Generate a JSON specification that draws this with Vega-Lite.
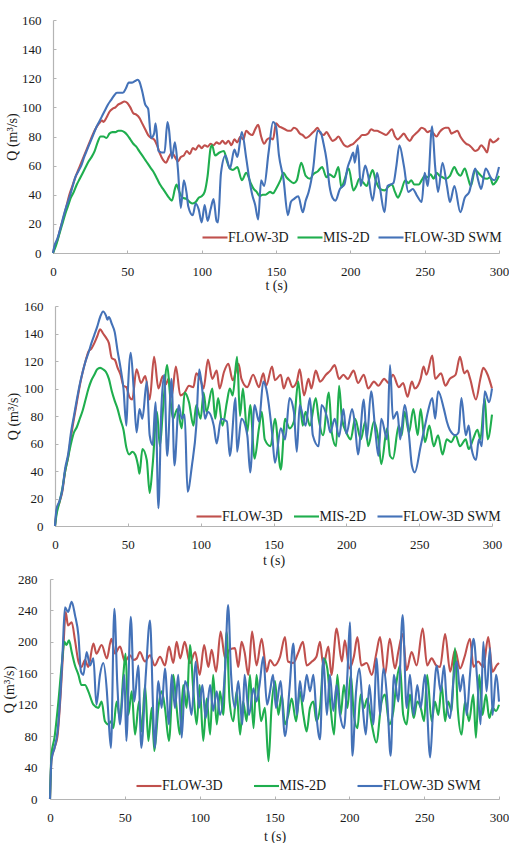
{
  "$schema": "https://vega.github.io/schema/vega-lite/v6.json",
  "background": "white",
  "padding": {"left": 2, "top": 14, "right": 0, "bottom": 0},
  "bounds": "flush",
  "spacing": 53,
  "resolve": {
    "scale": {"x": "independent", "y": "independent"},
    "axis": {"x": "independent", "y": "independent"},
    "legend": {"color": "independent"}
  },
  "config": {
    "view": {"stroke": null},
    "font": "Liberation Serif",
    "axis": {
      "grid": false,
      "labelFont": "Liberation Serif",
      "labelFontSize": 13,
      "labelColor": "#1a1a1a",
      "labelFlush": false,
      "labelOverlap": false,
      "labelBound": false,
      "titleFont": "Liberation Serif",
      "titleFontSize": 14,
      "titleFontWeight": "normal",
      "titleColor": "#1a1a1a",
      "domainColor": "#b4b4b4",
      "domainWidth": 1.2,
      "tickColor": "#b4b4b4",
      "tickSize": -3
    },
    "legend": {
      "orient": "none",
      "direction": "horizontal",
      "labelFont": "Liberation Serif",
      "labelFontSize": 14,
      "labelColor": "#1a1a1a",
      "symbolType": "stroke",
      "symbolStrokeWidth": 2.5,
      "symbolSize": 625,
      "labelOffset": -1,
      "padding": 0
    },
    "line": {"strokeWidth": 2.1, "interpolate": "monotone"}
  },
  "datasets": {
    "p1_flow3d": [
      {"t":0,"q":0},{"t":1,"q":4},{"t":3,"q":9},{"t":5,"q":17},{"t":7,"q":24},{"t":9,"q":32},{"t":11,"q":40},{"t":13,"q":46},{"t":15,"q":52},{"t":17,"q":57},{"t":19,"q":62},{"t":21,"q":67},{"t":23,"q":72},{"t":25,"q":77},{"t":27,"q":82},{"t":29,"q":86},{"t":31,"q":89},{"t":33,"q":91},{"t":34,"q":90},{"t":36,"q":93},{"t":38,"q":97},{"t":40,"q":99},{"t":42,"q":100},{"t":44,"q":102},{"t":46,"q":103},{"t":48,"q":104},{"t":50,"q":103},{"t":52,"q":100},{"t":54,"q":96},{"t":56,"q":95},{"t":58,"q":93},{"t":60,"q":89},{"t":62,"q":85},{"t":64,"q":81},{"t":66,"q":79},{"t":68,"q":78},{"t":70,"q":74},{"t":72,"q":68},{"t":74,"q":64},{"t":76,"q":62},{"t":78,"q":66},{"t":80,"q":69},{"t":82,"q":66},{"t":84,"q":63},{"t":86,"q":66},{"t":88,"q":67},{"t":90,"q":70},{"t":92,"q":68},{"t":94,"q":72},{"t":96,"q":71},{"t":98,"q":74},{"t":100,"q":72},{"t":102,"q":74},{"t":104,"q":73},{"t":106,"q":75},{"t":108,"q":74},{"t":110,"q":76},{"t":112,"q":75},{"t":114,"q":77},{"t":116,"q":75},{"t":118,"q":77},{"t":120,"q":74},{"t":122,"q":78},{"t":124,"q":76},{"t":126,"q":80},{"t":128,"q":78},{"t":130,"q":84},{"t":132,"q":82},{"t":134,"q":81},{"t":136,"q":85},{"t":138,"q":88},{"t":140,"q":80},{"t":142,"q":75},{"t":144,"q":78},{"t":146,"q":79},{"t":148,"q":78},{"t":150,"q":89},{"t":152,"q":87},{"t":154,"q":86},{"t":156,"q":85},{"t":158,"q":84},{"t":160,"q":84},{"t":162,"q":86},{"t":164,"q":85},{"t":166,"q":82},{"t":168,"q":81},{"t":170,"q":79},{"t":172,"q":80},{"t":174,"q":82},{"t":176,"q":84},{"t":178,"q":86},{"t":180,"q":82},{"t":182,"q":81},{"t":184,"q":83},{"t":186,"q":80},{"t":188,"q":77},{"t":190,"q":78},{"t":192,"q":80},{"t":194,"q":77},{"t":196,"q":74},{"t":198,"q":73},{"t":200,"q":74},{"t":202,"q":75},{"t":204,"q":77},{"t":206,"q":79},{"t":208,"q":81},{"t":210,"q":81},{"t":212,"q":82},{"t":214,"q":85},{"t":216,"q":84},{"t":218,"q":84},{"t":220,"q":83},{"t":222,"q":82},{"t":224,"q":81},{"t":226,"q":83},{"t":228,"q":85},{"t":230,"q":80},{"t":232,"q":78},{"t":234,"q":80},{"t":236,"q":82},{"t":238,"q":79},{"t":240,"q":77},{"t":242,"q":80},{"t":244,"q":82},{"t":246,"q":84},{"t":248,"q":86},{"t":250,"q":85},{"t":252,"q":83},{"t":254,"q":84},{"t":256,"q":82},{"t":258,"q":80},{"t":260,"q":83},{"t":262,"q":85},{"t":264,"q":86},{"t":266,"q":86},{"t":268,"q":82},{"t":270,"q":83},{"t":272,"q":84},{"t":274,"q":80},{"t":276,"q":77},{"t":278,"q":75},{"t":280,"q":74},{"t":282,"q":72},{"t":284,"q":70},{"t":286,"q":71},{"t":288,"q":74},{"t":290,"q":72},{"t":292,"q":69},{"t":294,"q":78},{"t":296,"q":76},{"t":298,"q":77},{"t":300,"q":79}
    ],
    "p1_mis2d": [
      {"t":0,"q":0},{"t":2,"q":5},{"t":4,"q":12},{"t":6,"q":19},{"t":8,"q":26},{"t":10,"q":32},{"t":12,"q":38},{"t":14,"q":42},{"t":16,"q":47},{"t":18,"q":51},{"t":20,"q":55},{"t":22,"q":59},{"t":24,"q":63},{"t":26,"q":66},{"t":28,"q":70},{"t":30,"q":76},{"t":32,"q":80},{"t":34,"q":80},{"t":36,"q":79},{"t":38,"q":82},{"t":40,"q":83},{"t":42,"q":83},{"t":44,"q":84},{"t":46,"q":84},{"t":48,"q":83},{"t":50,"q":81},{"t":52,"q":78},{"t":54,"q":75},{"t":56,"q":73},{"t":58,"q":70},{"t":60,"q":67},{"t":62,"q":64},{"t":64,"q":61},{"t":66,"q":58},{"t":68,"q":55},{"t":70,"q":51},{"t":72,"q":47},{"t":74,"q":44},{"t":76,"q":41},{"t":78,"q":38},{"t":80,"q":36},{"t":82,"q":44},{"t":83,"q":47},{"t":85,"q":42},{"t":87,"q":38},{"t":90,"q":37},{"t":92,"q":35},{"t":94,"q":34},{"t":96,"q":35},{"t":98,"q":38},{"t":100,"q":39},{"t":102,"q":42},{"t":104,"q":53},{"t":106,"q":72},{"t":107,"q":74},{"t":109,"q":67},{"t":112,"q":69},{"t":115,"q":70},{"t":117,"q":63},{"t":119,"q":58},{"t":121,"q":57},{"t":124,"q":59},{"t":127,"q":50},{"t":130,"q":55},{"t":133,"q":48},{"t":135,"q":44},{"t":137,"q":42},{"t":139,"q":39},{"t":141,"q":40},{"t":143,"q":40},{"t":146,"q":42},{"t":148,"q":41},{"t":150,"q":44},{"t":153,"q":50},{"t":155,"q":55},{"t":157,"q":52},{"t":159,"q":50},{"t":162,"q":48},{"t":164,"q":50},{"t":167,"q":62},{"t":170,"q":53},{"t":173,"q":51},{"t":175,"q":54},{"t":178,"q":56},{"t":181,"q":59},{"t":184,"q":52},{"t":186,"q":54},{"t":189,"q":52},{"t":192,"q":59},{"t":194,"q":45},{"t":196,"q":50},{"t":199,"q":58},{"t":202,"q":43},{"t":204,"q":46},{"t":206,"q":51},{"t":209,"q":48},{"t":211,"q":46},{"t":213,"q":52},{"t":215,"q":57},{"t":217,"q":50},{"t":220,"q":44},{"t":223,"q":43},{"t":226,"q":46},{"t":228,"q":47},{"t":230,"q":42},{"t":232,"q":38},{"t":234,"q":42},{"t":237,"q":50},{"t":239,"q":48},{"t":241,"q":50},{"t":243,"q":47},{"t":246,"q":47},{"t":248,"q":50},{"t":250,"q":53},{"t":252,"q":52},{"t":254,"q":54},{"t":256,"q":51},{"t":258,"q":55},{"t":260,"q":53},{"t":262,"q":52},{"t":264,"q":51},{"t":267,"q":53},{"t":270,"q":59},{"t":272,"q":55},{"t":274,"q":53},{"t":277,"q":58},{"t":279,"q":52},{"t":281,"q":46},{"t":284,"q":57},{"t":287,"q":54},{"t":289,"q":52},{"t":292,"q":51},{"t":294,"q":52},{"t":296,"q":47},{"t":298,"q":49},{"t":300,"q":53}
    ],
    "p1_swm": [
      {"t":0,"q":0},{"t":1,"q":5},{"t":3,"q":10},{"t":5,"q":17},{"t":7,"q":25},{"t":9,"q":32},{"t":11,"q":38},{"t":13,"q":45},{"t":15,"q":52},{"t":17,"q":56},{"t":19,"q":60},{"t":21,"q":66},{"t":23,"q":71},{"t":25,"q":76},{"t":27,"q":81},{"t":29,"q":86},{"t":31,"q":90},{"t":33,"q":94},{"t":35,"q":98},{"t":37,"q":102},{"t":39,"q":105},{"t":41,"q":108},{"t":43,"q":110},{"t":45,"q":110},{"t":47,"q":110},{"t":49,"q":113},{"t":51,"q":117},{"t":53,"q":117},{"t":55,"q":118},{"t":57,"q":119},{"t":58,"q":118},{"t":60,"q":111},{"t":62,"q":102},{"t":64,"q":99},{"t":66,"q":79},{"t":68,"q":82},{"t":69,"q":89},{"t":71,"q":70},{"t":73,"q":69},{"t":75,"q":69},{"t":77,"q":90},{"t":78,"q":85},{"t":80,"q":65},{"t":82,"q":76},{"t":84,"q":58},{"t":86,"q":31},{"t":88,"q":50},{"t":90,"q":40},{"t":91,"q":32},{"t":94,"q":26},{"t":96,"q":34},{"t":98,"q":30},{"t":100,"q":21},{"t":102,"q":33},{"t":104,"q":22},{"t":106,"q":30},{"t":108,"q":37},{"t":110,"q":22},{"t":111,"q":21},{"t":113,"q":55},{"t":116,"q":67},{"t":119,"q":58},{"t":122,"q":71},{"t":124,"q":66},{"t":127,"q":83},{"t":130,"q":65},{"t":132,"q":51},{"t":134,"q":40},{"t":136,"q":33},{"t":138,"q":23},{"t":140,"q":50},{"t":142,"q":46},{"t":145,"q":69},{"t":148,"q":90},{"t":150,"q":87},{"t":152,"q":67},{"t":155,"q":51},{"t":158,"q":26},{"t":160,"q":35},{"t":162,"q":37},{"t":165,"q":39},{"t":168,"q":28},{"t":170,"q":36},{"t":172,"q":42},{"t":175,"q":58},{"t":178,"q":84},{"t":180,"q":83},{"t":182,"q":75},{"t":184,"q":64},{"t":186,"q":46},{"t":188,"q":38},{"t":190,"q":36},{"t":193,"q":44},{"t":196,"q":47},{"t":198,"q":58},{"t":200,"q":64},{"t":202,"q":69},{"t":203,"q":62},{"t":205,"q":74},{"t":207,"q":46},{"t":210,"q":60},{"t":212,"q":53},{"t":215,"q":36},{"t":218,"q":55},{"t":220,"q":44},{"t":223,"q":28},{"t":225,"q":46},{"t":229,"q":48},{"t":231,"q":60},{"t":233,"q":74},{"t":236,"q":60},{"t":239,"q":42},{"t":242,"q":44},{"t":245,"q":39},{"t":248,"q":35},{"t":250,"q":55},{"t":252,"q":46},{"t":255,"q":87},{"t":257,"q":60},{"t":259,"q":42},{"t":262,"q":62},{"t":265,"q":46},{"t":267,"q":35},{"t":270,"q":46},{"t":274,"q":28},{"t":277,"q":38},{"t":280,"q":42},{"t":284,"q":58},{"t":286,"q":50},{"t":288,"q":44},{"t":291,"q":58},{"t":295,"q":51},{"t":297,"q":50},{"t":300,"q":59}
    ],
    "p2_flow3d": [
      {"t":0,"q":0},{"t":1,"q":10},{"t":3,"q":17},{"t":5,"q":25},{"t":7,"q":40},{"t":9,"q":50},{"t":11,"q":65},{"t":13,"q":78},{"t":15,"q":90},{"t":17,"q":102},{"t":19,"q":112},{"t":21,"q":120},{"t":23,"q":127},{"t":25,"q":129},{"t":27,"q":133},{"t":29,"q":138},{"t":31,"q":143},{"t":33,"q":140},{"t":35,"q":137},{"t":37,"q":133},{"t":39,"q":122},{"t":41,"q":121},{"t":43,"q":115},{"t":45,"q":110},{"t":47,"q":102},{"t":49,"q":101},{"t":51,"q":94},{"t":53,"q":92},{"t":56,"q":114},{"t":59,"q":104},{"t":62,"q":109},{"t":65,"q":92},{"t":68,"q":123},{"t":71,"q":100},{"t":74,"q":109},{"t":76,"q":103},{"t":78,"q":107},{"t":80,"q":94},{"t":83,"q":116},{"t":86,"q":95},{"t":89,"q":97},{"t":92,"q":102},{"t":95,"q":101},{"t":97,"q":111},{"t":100,"q":106},{"t":102,"q":100},{"t":105,"q":121},{"t":108,"q":107},{"t":111,"q":113},{"t":113,"q":100},{"t":116,"q":112},{"t":119,"q":118},{"t":122,"q":106},{"t":126,"q":118},{"t":128,"q":107},{"t":132,"q":101},{"t":136,"q":110},{"t":140,"q":101},{"t":143,"q":111},{"t":145,"q":102},{"t":149,"q":116},{"t":151,"q":106},{"t":155,"q":110},{"t":157,"q":100},{"t":160,"q":108},{"t":163,"q":101},{"t":166,"q":105},{"t":168,"q":114},{"t":171,"q":95},{"t":174,"q":107},{"t":176,"q":100},{"t":179,"q":113},{"t":182,"q":105},{"t":186,"q":110},{"t":189,"q":113},{"t":192,"q":117},{"t":195,"q":107},{"t":198,"q":110},{"t":201,"q":107},{"t":205,"q":113},{"t":208,"q":104},{"t":212,"q":110},{"t":215,"q":100},{"t":219,"q":105},{"t":222,"q":102},{"t":226,"q":107},{"t":229,"q":104},{"t":232,"q":110},{"t":236,"q":101},{"t":239,"q":104},{"t":242,"q":94},{"t":245,"q":105},{"t":247,"q":100},{"t":251,"q":107},{"t":253,"q":116},{"t":255,"q":110},{"t":259,"q":124},{"t":261,"q":107},{"t":265,"q":111},{"t":268,"q":102},{"t":271,"q":107},{"t":275,"q":110},{"t":278,"q":123},{"t":281,"q":111},{"t":283,"q":113},{"t":285,"q":107},{"t":289,"q":92},{"t":292,"q":107},{"t":294,"q":115},{"t":297,"q":110},{"t":300,"q":100}
    ],
    "p2_mis2d": [
      {"t":0,"q":0},{"t":1,"q":8},{"t":3,"q":17},{"t":5,"q":27},{"t":7,"q":40},{"t":9,"q":50},{"t":11,"q":60},{"t":13,"q":68},{"t":15,"q":72},{"t":17,"q":78},{"t":19,"q":84},{"t":21,"q":92},{"t":23,"q":100},{"t":25,"q":106},{"t":27,"q":110},{"t":29,"q":114},{"t":31,"q":115},{"t":33,"q":114},{"t":35,"q":112},{"t":37,"q":107},{"t":39,"q":98},{"t":41,"q":91},{"t":43,"q":85},{"t":45,"q":77},{"t":47,"q":70},{"t":49,"q":57},{"t":51,"q":52},{"t":53,"q":54},{"t":55,"q":52},{"t":57,"q":44},{"t":58,"q":38},{"t":60,"q":56},{"t":63,"q":48},{"t":65,"q":24},{"t":67,"q":44},{"t":70,"q":83},{"t":72,"q":58},{"t":74,"q":83},{"t":77,"q":117},{"t":79,"q":95},{"t":81,"q":78},{"t":84,"q":85},{"t":87,"q":71},{"t":89,"q":97},{"t":92,"q":90},{"t":95,"q":73},{"t":97,"q":88},{"t":100,"q":78},{"t":102,"q":97},{"t":104,"q":83},{"t":108,"q":100},{"t":110,"q":78},{"t":112,"q":93},{"t":115,"q":73},{"t":118,"q":90},{"t":120,"q":100},{"t":122,"q":95},{"t":125,"q":123},{"t":127,"q":80},{"t":129,"q":100},{"t":132,"q":68},{"t":134,"q":88},{"t":137,"q":49},{"t":140,"q":71},{"t":142,"q":83},{"t":144,"q":63},{"t":148,"q":58},{"t":151,"q":78},{"t":155,"q":41},{"t":158,"q":78},{"t":161,"q":71},{"t":164,"q":76},{"t":167,"q":105},{"t":170,"q":73},{"t":172,"q":83},{"t":175,"q":73},{"t":179,"q":93},{"t":181,"q":78},{"t":184,"q":66},{"t":188,"q":97},{"t":190,"q":68},{"t":193,"q":58},{"t":195,"q":102},{"t":197,"q":78},{"t":200,"q":68},{"t":203,"q":63},{"t":206,"q":78},{"t":210,"q":63},{"t":213,"q":76},{"t":215,"q":58},{"t":219,"q":76},{"t":222,"q":63},{"t":224,"q":45},{"t":228,"q":71},{"t":230,"q":51},{"t":232,"q":49},{"t":236,"q":73},{"t":238,"q":66},{"t":240,"q":83},{"t":243,"q":68},{"t":246,"q":85},{"t":249,"q":66},{"t":251,"q":85},{"t":254,"q":61},{"t":257,"q":73},{"t":260,"q":58},{"t":263,"q":66},{"t":266,"q":52},{"t":269,"q":63},{"t":272,"q":61},{"t":275,"q":66},{"t":278,"q":58},{"t":282,"q":63},{"t":284,"q":56},{"t":287,"q":63},{"t":290,"q":70},{"t":292,"q":63},{"t":295,"q":93},{"t":297,"q":63},{"t":300,"q":81}
    ],
    "p2_swm": [
      {"t":0,"q":0},{"t":1,"q":12},{"t":3,"q":18},{"t":5,"q":26},{"t":7,"q":42},{"t":9,"q":52},{"t":11,"q":68},{"t":13,"q":80},{"t":15,"q":92},{"t":17,"q":103},{"t":19,"q":112},{"t":21,"q":120},{"t":23,"q":126},{"t":25,"q":133},{"t":27,"q":139},{"t":29,"q":145},{"t":31,"q":152},{"t":33,"q":156},{"t":35,"q":153},{"t":36,"q":150},{"t":37,"q":152},{"t":39,"q":147},{"t":41,"q":141},{"t":43,"q":127},{"t":45,"q":115},{"t":47,"q":100},{"t":49,"q":73},{"t":50,"q":98},{"t":52,"q":126},{"t":54,"q":100},{"t":56,"q":68},{"t":58,"q":85},{"t":60,"q":78},{"t":63,"q":105},{"t":65,"q":66},{"t":67,"q":59},{"t":69,"q":90},{"t":71,"q":13},{"t":73,"q":85},{"t":75,"q":110},{"t":77,"q":51},{"t":80,"q":107},{"t":82,"q":44},{"t":85,"q":88},{"t":87,"q":78},{"t":89,"q":81},{"t":91,"q":25},{"t":94,"q":44},{"t":97,"q":73},{"t":99,"q":114},{"t":101,"q":100},{"t":103,"q":78},{"t":105,"q":83},{"t":109,"q":73},{"t":111,"q":60},{"t":114,"q":78},{"t":118,"q":76},{"t":120,"q":51},{"t":124,"q":93},{"t":125,"q":54},{"t":128,"q":78},{"t":132,"q":66},{"t":134,"q":39},{"t":137,"q":88},{"t":140,"q":76},{"t":143,"q":105},{"t":145,"q":100},{"t":149,"q":68},{"t":151,"q":46},{"t":155,"q":71},{"t":158,"q":63},{"t":161,"q":93},{"t":164,"q":83},{"t":166,"q":54},{"t":168,"q":88},{"t":172,"q":73},{"t":175,"q":93},{"t":177,"q":66},{"t":181,"q":58},{"t":183,"q":88},{"t":187,"q":78},{"t":189,"q":68},{"t":192,"q":78},{"t":195,"q":65},{"t":198,"q":85},{"t":200,"q":67},{"t":204,"q":85},{"t":206,"q":73},{"t":208,"q":52},{"t":212,"q":92},{"t":214,"q":63},{"t":217,"q":98},{"t":220,"q":68},{"t":222,"q":51},{"t":224,"q":78},{"t":228,"q":63},{"t":230,"q":117},{"t":232,"q":78},{"t":235,"q":83},{"t":237,"q":63},{"t":240,"q":88},{"t":243,"q":66},{"t":245,"q":44},{"t":247,"q":39},{"t":251,"q":58},{"t":254,"q":73},{"t":256,"q":83},{"t":259,"q":93},{"t":261,"q":78},{"t":263,"q":98},{"t":267,"q":85},{"t":269,"q":76},{"t":271,"q":70},{"t":275,"q":66},{"t":277,"q":68},{"t":279,"q":93},{"t":282,"q":66},{"t":284,"q":73},{"t":286,"q":56},{"t":289,"q":48},{"t":291,"q":63},{"t":293,"q":58},{"t":295,"q":98},{"t":298,"q":90},{"t":300,"q":100}
    ],
    "p3_flow3d": [
      {"t":0,"q":0},{"t":1,"q":50},{"t":3,"q":65},{"t":5,"q":80},{"t":7,"q":130},{"t":9,"q":195},{"t":10.5,"q":238},{"t":12,"q":221},{"t":14.5,"q":225},{"t":16.7,"q":202},{"t":19,"q":175},{"t":21,"q":168},{"t":23.4,"q":177},{"t":25.6,"q":168},{"t":29,"q":198},{"t":31,"q":185},{"t":34.5,"q":196},{"t":38,"q":179},{"t":41,"q":204},{"t":43.4,"q":185},{"t":46.8,"q":194},{"t":50,"q":175},{"t":53.5,"q":183},{"t":55.7,"q":177},{"t":58,"q":179},{"t":60,"q":187},{"t":63.5,"q":175},{"t":66.8,"q":183},{"t":70,"q":170},{"t":73.5,"q":181},{"t":76.8,"q":170},{"t":79.5,"q":194},{"t":82.4,"q":173},{"t":84.6,"q":200},{"t":87,"q":179},{"t":90,"q":200},{"t":93.5,"q":173},{"t":97,"q":187},{"t":100,"q":158},{"t":103,"q":196},{"t":105.8,"q":168},{"t":108,"q":190},{"t":111,"q":162},{"t":114,"q":213},{"t":117,"q":179},{"t":120,"q":190},{"t":123.6,"q":192},{"t":125.8,"q":168},{"t":128,"q":200},{"t":130,"q":187},{"t":132.5,"q":158},{"t":135,"q":213},{"t":138,"q":170},{"t":141.4,"q":204},{"t":144.8,"q":162},{"t":147,"q":177},{"t":150,"q":170},{"t":153.7,"q":181},{"t":157,"q":206},{"t":159,"q":175},{"t":162.6,"q":173},{"t":166,"q":187},{"t":169,"q":200},{"t":171.5,"q":170},{"t":175,"q":175},{"t":178,"q":181},{"t":180.4,"q":200},{"t":182.6,"q":170},{"t":186,"q":194},{"t":188,"q":158},{"t":191.5,"q":217},{"t":195,"q":175},{"t":197,"q":202},{"t":200,"q":166},{"t":203,"q":181},{"t":205.4,"q":206},{"t":208,"q":170},{"t":211.6,"q":173},{"t":215,"q":158},{"t":218,"q":185},{"t":220.5,"q":206},{"t":223.8,"q":158},{"t":227,"q":204},{"t":230.5,"q":166},{"t":232.7,"q":187},{"t":235.6,"q":210},{"t":238.3,"q":164},{"t":241.6,"q":187},{"t":245,"q":170},{"t":249,"q":217},{"t":252,"q":170},{"t":255,"q":179},{"t":258,"q":170},{"t":260.6,"q":168},{"t":264,"q":210},{"t":267.4,"q":162},{"t":270.6,"q":190},{"t":274,"q":166},{"t":277,"q":181},{"t":280.6,"q":204},{"t":283,"q":168},{"t":286,"q":175},{"t":289.5,"q":168},{"t":292.8,"q":206},{"t":295.7,"q":162},{"t":298.4,"q":170},{"t":300,"q":173}
    ],
    "p3_mis2d": [
      {"t":0,"q":0},{"t":1,"q":57},{"t":3,"q":78},{"t":5.6,"q":124},{"t":7.8,"q":170},{"t":9.6,"q":200},{"t":11,"q":196},{"t":12.7,"q":202},{"t":14.5,"q":187},{"t":16.7,"q":170},{"t":19,"q":158},{"t":21,"q":145},{"t":23.4,"q":145},{"t":25.6,"q":137},{"t":29,"q":120},{"t":32.3,"q":116},{"t":34.5,"q":124},{"t":36.7,"q":99},{"t":39,"q":95},{"t":40.8,"q":99},{"t":42.3,"q":90},{"t":44.5,"q":124},{"t":46.8,"q":103},{"t":49,"q":158},{"t":50.5,"q":185},{"t":52.3,"q":107},{"t":54.6,"q":137},{"t":56.8,"q":82},{"t":59.5,"q":124},{"t":61.2,"q":86},{"t":63.5,"q":145},{"t":65.7,"q":74},{"t":68,"q":116},{"t":69.7,"q":61},{"t":72.4,"q":116},{"t":74.6,"q":137},{"t":76.8,"q":116},{"t":79.5,"q":74},{"t":82.4,"q":158},{"t":84.6,"q":116},{"t":86.8,"q":82},{"t":89,"q":145},{"t":91.3,"q":116},{"t":93.5,"q":196},{"t":95.8,"q":137},{"t":98,"q":95},{"t":100,"q":145},{"t":102.4,"q":74},{"t":104.7,"q":128},{"t":107,"q":82},{"t":109,"q":158},{"t":111.4,"q":95},{"t":113.6,"q":137},{"t":115.8,"q":107},{"t":118,"q":213},{"t":120,"q":124},{"t":122.5,"q":99},{"t":124.7,"q":137},{"t":127,"q":82},{"t":129,"q":124},{"t":131.4,"q":99},{"t":133.6,"q":158},{"t":136,"q":90},{"t":138,"q":158},{"t":141,"q":99},{"t":143.6,"q":116},{"t":146,"q":48},{"t":148,"q":116},{"t":150.3,"q":150},{"t":152.6,"q":107},{"t":154.8,"q":133},{"t":157,"q":95},{"t":159.2,"q":107},{"t":161.5,"q":128},{"t":164.4,"q":99},{"t":167,"q":137},{"t":169.3,"q":107},{"t":171.5,"q":86},{"t":173.7,"q":116},{"t":176,"q":124},{"t":178,"q":99},{"t":180.4,"q":116},{"t":183,"q":179},{"t":185.3,"q":166},{"t":187.5,"q":116},{"t":189.8,"q":82},{"t":192,"q":158},{"t":194.2,"q":107},{"t":196.4,"q":145},{"t":198.7,"q":116},{"t":201,"q":158},{"t":203,"q":107},{"t":205.4,"q":90},{"t":207.6,"q":133},{"t":209.8,"q":116},{"t":212,"q":128},{"t":215,"q":95},{"t":218,"q":72},{"t":221.6,"q":124},{"t":223.8,"q":133},{"t":226.7,"q":95},{"t":229.4,"q":112},{"t":231.6,"q":150},{"t":233.8,"q":170},{"t":236,"q":107},{"t":238.3,"q":95},{"t":240.5,"q":133},{"t":243,"q":103},{"t":245.4,"q":124},{"t":247.7,"q":116},{"t":250,"q":99},{"t":252,"q":158},{"t":255,"q":99},{"t":257.2,"q":124},{"t":259.5,"q":107},{"t":261.7,"q":145},{"t":264,"q":99},{"t":266,"q":124},{"t":268.4,"q":112},{"t":270.6,"q":192},{"t":272.4,"q":116},{"t":275,"q":82},{"t":277.3,"q":124},{"t":280,"q":99},{"t":282.8,"q":133},{"t":284.6,"q":78},{"t":286.8,"q":158},{"t":289,"q":107},{"t":291.3,"q":133},{"t":293.5,"q":103},{"t":295.7,"q":116},{"t":298,"q":112},{"t":300,"q":120}
    ],
    "p3_swm": [
      {"t":0,"q":0},{"t":1,"q":50},{"t":3,"q":65},{"t":5,"q":85},{"t":7,"q":135},{"t":8.5,"q":190},{"t":10,"q":244},{"t":12,"q":238},{"t":14.5,"q":251},{"t":16.7,"q":234},{"t":19,"q":208},{"t":20.7,"q":162},{"t":22.3,"q":158},{"t":24.5,"q":187},{"t":26.7,"q":170},{"t":29,"q":179},{"t":31,"q":120},{"t":33.4,"q":158},{"t":35.6,"q":173},{"t":38,"q":137},{"t":39,"q":107},{"t":40.7,"q":65},{"t":43,"q":242},{"t":45,"q":145},{"t":46.8,"q":95},{"t":49.7,"q":158},{"t":51,"q":74},{"t":54,"q":232},{"t":56.3,"q":124},{"t":59,"q":170},{"t":61,"q":65},{"t":64,"q":158},{"t":66.8,"q":227},{"t":69,"q":107},{"t":70,"q":65},{"t":72.4,"q":150},{"t":74.6,"q":116},{"t":76.8,"q":166},{"t":79.5,"q":95},{"t":81.3,"q":158},{"t":83.5,"q":116},{"t":85.7,"q":158},{"t":88,"q":78},{"t":90.2,"q":150},{"t":92.4,"q":137},{"t":94.6,"q":107},{"t":97.3,"q":175},{"t":99.6,"q":116},{"t":101.8,"q":145},{"t":104,"q":103},{"t":107,"q":145},{"t":109,"q":112},{"t":111.4,"q":137},{"t":113.6,"q":107},{"t":117,"q":166},{"t":119,"q":247},{"t":121,"q":158},{"t":123.6,"q":116},{"t":125.8,"q":150},{"t":128.5,"q":95},{"t":130,"q":158},{"t":133,"q":107},{"t":135.9,"q":141},{"t":138,"q":124},{"t":140,"q":145},{"t":142.5,"q":181},{"t":145,"q":120},{"t":147,"q":137},{"t":149,"q":158},{"t":151,"q":116},{"t":154,"q":150},{"t":157,"q":80},{"t":160,"q":140},{"t":162.6,"q":198},{"t":165,"q":107},{"t":167,"q":150},{"t":169,"q":124},{"t":171.5,"q":158},{"t":173.7,"q":137},{"t":176,"q":158},{"t":178,"q":107},{"t":180.4,"q":76},{"t":182.6,"q":179},{"t":185,"q":107},{"t":187,"q":158},{"t":189.3,"q":112},{"t":191.5,"q":145},{"t":193.8,"q":107},{"t":196.4,"q":90},{"t":198.7,"q":158},{"t":200.4,"q":225},{"t":202,"q":55},{"t":204.5,"q":137},{"t":206.7,"q":166},{"t":209,"q":116},{"t":211,"q":82},{"t":213.4,"q":145},{"t":216,"q":95},{"t":218.3,"q":179},{"t":220.5,"q":107},{"t":222.7,"q":166},{"t":225.4,"q":124},{"t":227.6,"q":55},{"t":229.8,"q":158},{"t":232.7,"q":124},{"t":235.6,"q":234},{"t":238.3,"q":116},{"t":240.5,"q":158},{"t":243,"q":107},{"t":245.4,"q":145},{"t":247.7,"q":116},{"t":250.5,"q":158},{"t":254,"q":53},{"t":256,"q":116},{"t":258.4,"q":170},{"t":261,"q":137},{"t":263.3,"q":170},{"t":265,"q":124},{"t":267.3,"q":103},{"t":269.5,"q":150},{"t":271.8,"q":175},{"t":274,"q":137},{"t":276,"q":158},{"t":278.4,"q":107},{"t":280.6,"q":158},{"t":283,"q":204},{"t":285.5,"q":150},{"t":287.7,"q":95},{"t":289.5,"q":200},{"t":291.7,"q":137},{"t":294,"q":192},{"t":295.7,"q":107},{"t":298,"q":158},{"t":300,"q":124}
    ]
  },
  "vconcat": [
    {
      "width": 449,
      "height": 233,
      "encoding": {
        "x": {"field": "t", "type": "quantitative", "scale": {"domain": [0, 300], "range": [3, 449], "nice": false},
              "axis": {"title": "t (s)", "values": [0, 50, 100, 150, 200, 250, 300], "labelPadding": 15, "titlePadding": 0}},
        "y": {"field": "q", "type": "quantitative", "scale": {"domain": [0, 160], "nice": false},
              "axis": {"title": "Q (m³/s)", "values": [0, 20, 40, 60, 80, 100, 120, 140, 160], "offset": -3, "labelPadding": 15, "titlePadding": 2}}
      },
      "layer": [
        {"data": {"name": "p1_flow3d"}, "mark": "line",
         "encoding": {"color": {"datum": "FLOW-3D", "type": "nominal",
           "scale": {"domain": ["FLOW-3D", "MIS-2D", "FLOW-3D SWM"], "range": ["#c0504d", "#1fae4e", "#4472b8"]},
           "legend": {"title": null, "legendX": 151, "legendY": 203.5, "columnPadding": 4}}}},
        {"data": {"name": "p1_mis2d"}, "mark": "line", "encoding": {"color": {"datum": "MIS-2D", "type": "nominal"}}},
        {"data": {"name": "p1_swm"}, "mark": "line", "encoding": {"color": {"datum": "FLOW-3D SWM", "type": "nominal"}}}
      ]
    },
    {
      "width": 442,
      "height": 220,
      "encoding": {
        "x": {"field": "t", "type": "quantitative", "scale": {"domain": [0, 300], "range": [5, 442], "nice": false},
              "axis": {"title": "t (s)", "values": [0, 50, 100, 150, 200, 250, 300], "labelPadding": 15, "titlePadding": 2}},
        "y": {"field": "q", "type": "quantitative", "scale": {"domain": [0, 160], "nice": false},
              "axis": {"title": "Q (m³/s)", "values": [0, 20, 40, 60, 80, 100, 120, 140, 160], "offset": -5, "labelPadding": 15, "titlePadding": 3}}
      },
      "layer": [
        {"data": {"name": "p2_flow3d"}, "mark": "line",
         "encoding": {"color": {"datum": "FLOW-3D", "type": "nominal",
           "scale": {"domain": ["FLOW-3D", "MIS-2D", "FLOW-3D SWM"], "range": ["#c0504d", "#1fae4e", "#4472b8"]},
           "legend": {"title": null, "legendX": 145, "legendY": 196.5, "columnPadding": 6.5}}}},
        {"data": {"name": "p2_mis2d"}, "mark": "line", "encoding": {"color": {"datum": "MIS-2D", "type": "nominal"}}},
        {"data": {"name": "p2_swm"}, "mark": "line", "encoding": {"color": {"datum": "FLOW-3D SWM", "type": "nominal"}}}
      ]
    },
    {
      "width": 449,
      "height": 220,
      "encoding": {
        "x": {"field": "t", "type": "quantitative", "scale": {"domain": [0, 300], "nice": false},
              "axis": {"title": "t (s)", "values": [0, 50, 100, 150, 200, 250, 300], "labelPadding": 15, "titlePadding": 5}},
        "y": {"field": "q", "type": "quantitative", "scale": {"domain": [0, 280], "nice": false},
              "axis": {"title": "Q (m³/s)", "values": [0, 40, 80, 120, 160, 200, 240, 280], "labelPadding": 16, "titlePadding": 1}}
      },
      "layer": [
        {"data": {"name": "p3_flow3d"}, "mark": "line",
         "encoding": {"color": {"datum": "FLOW-3D", "type": "nominal",
           "scale": {"domain": ["FLOW-3D", "MIS-2D", "FLOW-3D SWM"], "range": ["#c0504d", "#1fae4e", "#4472b8"]},
           "legend": {"title": null, "legendX": 85, "legendY": 193, "columnPadding": 26.5}}}},
        {"data": {"name": "p3_mis2d"}, "mark": "line", "encoding": {"color": {"datum": "MIS-2D", "type": "nominal"}}},
        {"data": {"name": "p3_swm"}, "mark": "line", "encoding": {"color": {"datum": "FLOW-3D SWM", "type": "nominal"}}}
      ]
    }
  ]
}
